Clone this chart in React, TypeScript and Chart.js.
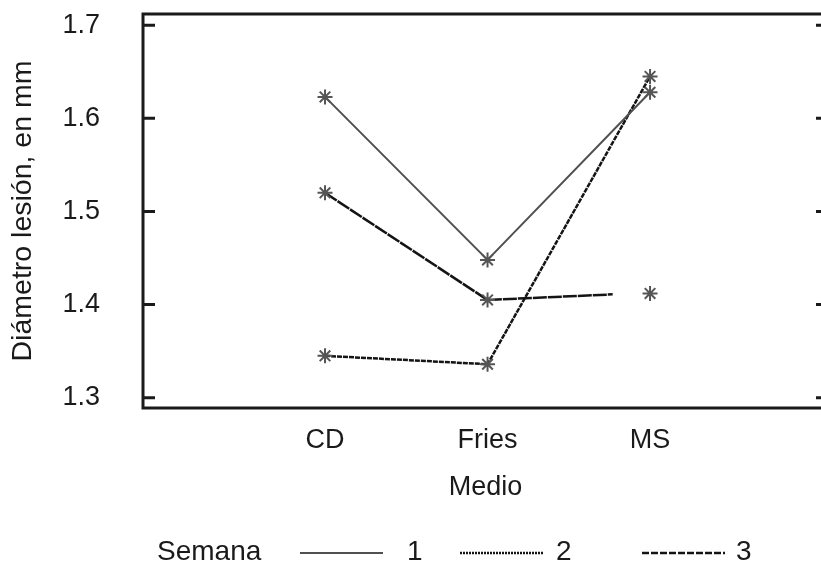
import React, { useEffect, useRef } from "react";
import { Chart, registerables } from "chart.js";

Chart.register(...registerables);

// ---- data ----
const categories = ["CD", "Fries", "MS"];
const categoryPositions = [1, 2, 3];
const yTickValues = [1.3, 1.4, 1.5, 1.6, 1.7];
const seriesLabels = ["1", "2", "3"];
const semana1 = [1.623, 1.448, 1.628];
const semana2 = [1.345, 1.336, 1.645];
const semana3 = [1.52, 1.405, 1.412];
// the drawn line of week 3 stops short of the MS marker
const semana3LineStop = [2.77, 1.411];

const legendTitle = "Semana";
const xTitle = "Medio";
const yTitle = "Diámetro lesión, en mm";

const FONT = "'Liberation Sans', Arial, Helvetica, sans-serif";
const TEXT = "#1a1a1a";

const boxPlugin = {
  id: "boxPlugin",
  beforeDatasetsDraw(chart: any) {
    const { ctx, chartArea } = chart;
    const { left, right, top, bottom } = chartArea;
    const y = chart.scales.y;
    ctx.save();
    ctx.strokeStyle = "#1a1a1a";
    ctx.lineWidth = 3;
    ctx.strokeRect(left, top, right - left, bottom - top);
    ctx.beginPath();
    for (const t of y.ticks) {
      const py = y.getPixelForValue(t.value);
      ctx.moveTo(left, py);
      ctx.lineTo(left + 12, py);
      ctx.moveTo(right - 12, py);
      ctx.lineTo(right, py);
    }
    ctx.stroke();
    ctx.restore();
  },
};

const legendPlugin = {
  id: "legendPlugin",
  afterDraw(chart: any) {
    const { ctx } = chart;
    const cy = 552;
    ctx.save();
    ctx.font = `28px ${FONT}`;
    ctx.fillStyle = TEXT;
    ctx.textBaseline = "middle";
    ctx.textAlign = "left";
    ctx.fillText(legendTitle, 157, cy);
    const lineStarts = [300, 460, 642];
    const labelStarts = [407, 556, 736];
    chart.data.datasets.forEach((ds: any, i: number) => {
      const x0 = lineStarts[i];
      ctx.save();
      ctx.strokeStyle = ds.borderColor;
      ctx.lineWidth = ds.borderWidth;
      ctx.setLineDash(ds.legendDash || ds.borderDash || []);
      ctx.beginPath();
      ctx.moveTo(x0, cy + 1);
      ctx.lineTo(x0 + 83, cy + 1);
      ctx.stroke();
      ctx.restore();
      ctx.fillText(ds.label, labelStarts[i], cy);
    });
    ctx.restore();
  },
};

function pts(values: number[]) {
  return values.map((v, i) => ({ x: categoryPositions[i], y: v }));
}

export default function App() {
  const ref = useRef<HTMLCanvasElement | null>(null);

  useEffect(() => {
    if (!ref.current) return;
    Chart.defaults.font.family = FONT;
    Chart.defaults.font.size = 27;
    Chart.defaults.color = TEXT;

    const w3 = pts(semana3);
    const w3Data = [w3[0], w3[1], { x: semana3LineStop[0], y: semana3LineStop[1] }, w3[2]];

    const marker = {
      pointStyle: "star",
      pointBorderColor: "#555555",
      pointBackgroundColor: "#555555",
      pointBorderWidth: 2,
      pointRadius: 7.5,
    };

    const chart = new Chart(ref.current, {
      type: "line",
      data: {
        datasets: [
          {
            label: seriesLabels[0],
            data: pts(semana1),
            borderColor: "#505050",
            borderWidth: 2,
            ...marker,
          },
          {
            label: seriesLabels[1],
            data: pts(semana2),
            borderColor: "#141414",
            borderWidth: 2.5,
            borderDash: [5, 1],
            legendDash: [2, 1],
            ...marker,
          },
          {
            label: seriesLabels[2],
            data: w3Data,
            borderColor: "#141414",
            borderWidth: 2.5,
            borderDash: [14, 1],
            legendDash: [7, 2],
            ...marker,
            pointRadius: (c: any) => (c.dataIndex === 2 ? 0 : 7.5),
            segment: {
              borderColor: (c: any) => (c.p0DataIndex === 2 ? "rgba(0,0,0,0)" : undefined),
            },
          } as any,
        ],
      },
      options: {
        animation: false,
        responsive: false,
        devicePixelRatio: 1,
        layout: { padding: { left: 0, top: 14, right: 12, bottom: 61 } },
        plugins: {
          legend: { display: false },
          tooltip: { enabled: false },
        },
        scales: {
          x: {
            type: "linear",
            min: -0.12,
            max: 4.095,
            grid: { display: false, drawTicks: false, tickLength: 0 },
            border: { display: false },
            afterBuildTicks: (s: any) => {
              s.ticks = categoryPositions.map((v) => ({ value: v }));
            },
            afterFit: (s: any) => {
              s.height = 100;
              s.paddingLeft = 0;
              s.paddingRight = 0;
            },
            ticks: {
              padding: 16,
              autoSkip: false,
              maxRotation: 0,
              callback: (v: any) => {
                const i = categoryPositions.indexOf(Number(v));
                return i >= 0 ? categories[i] : "";
              },
            },
            title: {
              display: true,
              text: xTitle,
              padding: { top: 0, bottom: 4 },
            },
          },
          y: {
            type: "linear",
            min: 1.289,
            max: 1.712,
            grid: { display: false, drawTicks: false, tickLength: 0 },
            border: { display: false },
            afterBuildTicks: (s: any) => {
              s.ticks = yTickValues.map((v) => ({ value: v }));
            },
            afterFit: (s: any) => {
              s.width = 143;
              s.paddingTop = 0;
              s.paddingBottom = 0;
            },
            ticks: {
              padding: 43,
              callback: (v: any) => Number(v).toFixed(1),
            },
            title: {
              display: true,
              text: yTitle,
              font: { size: 28.5 },
              padding: { top: 6, bottom: 0 },
            },
          },
        },
      },
      plugins: [boxPlugin, legendPlugin],
    } as any);

    return () => chart.destroy();
  }, []);

  return (
    <div
      style={{
        position: "absolute",
        left: 0,
        top: 0,
        width: 821,
        height: 569,
        overflow: "hidden",
        background: "#ffffff",
      }}
    >
      <canvas ref={ref} width={840} height={569} style={{ display: "block" }} />
    </div>
  );
}
